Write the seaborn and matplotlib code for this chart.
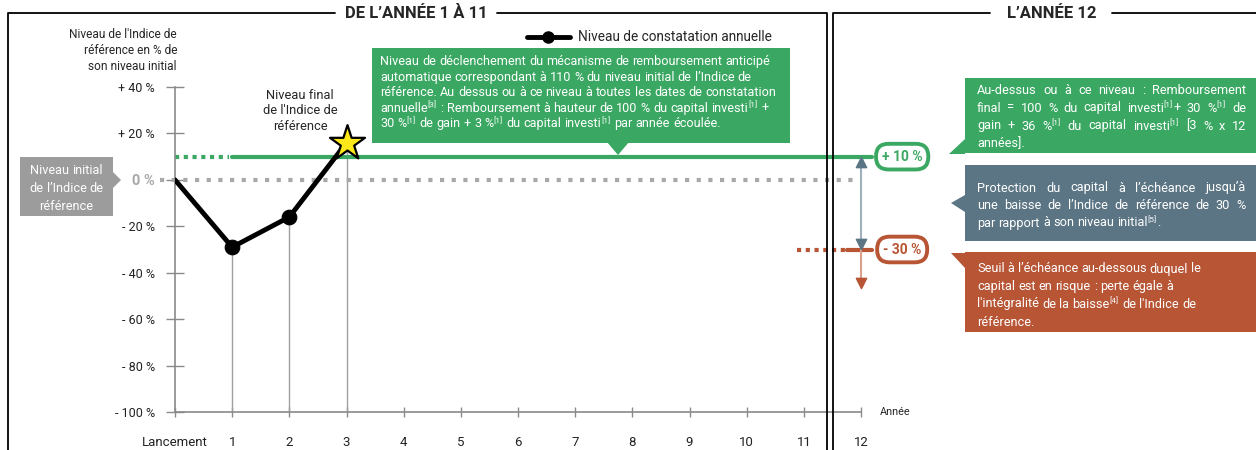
"""
plot.py
-------
Schéma de fonctionnement : niveau de l'Indice de référence, années 1 à 12.
"""

import re
import matplotlib
matplotlib.use("Agg")
import matplotlib.pyplot as plt
from matplotlib.patches import Rectangle, Polygon
import seaborn as sns

# ── Données ────────────────────────────────────────────────────────────────
years = [0, 1, 2, 3]
levels = [0, -29, -16, 16]
x_ticks = list(range(13))
x_labels = ["Lancement"] + [str(i) for i in range(1, 13)]
y_ticks = [40, 20, 0, -20, -40, -60, -80, -100]
y_labels = ["+ 40 %", "+ 20 %", "0 %", "- 20 %", "- 40 %", "- 60 %", "- 80 %", "- 100 %"]
trigger_level = 10
barrier_level = -30

# ── Style ──────────────────────────────────────────────────────────────────
W, H = 1256, 450
GREEN = "#3aa862"
SLATE = "#5b7584"
ORANGE = "#b75535"
GREY_BOX = "#9c9c9c"
GREY_DOT = "#a8a8a8"
AXIS = "#8a8a8a"

sns.set_theme(style="white")
plt.rcParams["font.family"] = ["Roboto", "DejaVu Sans"]

fig = plt.figure(figsize=(W / 100, H / 100), dpi=100)
fig.patch.set_facecolor("white")

# axes du graphique : x 0→12 sur px 175→861, y -100→40 sur px 412→87
ax = fig.add_axes([175 / W, (H - 412) / H, 686 / W, 325 / H])
ax.set_facecolor("none")
ax.set_xlim(0, 12)
ax.set_ylim(-100, 40)
for s in ["top", "right"]:
    ax.spines[s].set_visible(False)
for s in ["left", "bottom"]:
    ax.spines[s].set_color(AXIS)
    ax.spines[s].set_linewidth(1.2)
ax.set_yticks(y_ticks)
ax.set_yticklabels(y_labels)
ax.set_xticks(x_ticks)
ax.set_xticklabels(x_labels)
ax.tick_params(axis="y", direction="inout", length=13, width=1, color=AXIS,
               labelsize=9, pad=8, labelcolor="#222222", left=True)
ax.tick_params(axis="x", direction="inout", length=7, width=1, color=AXIS,
               labelsize=9.5, pad=14, labelcolor="#222222", bottom=True)
for lbl in ax.get_yticklabels():
    if lbl.get_text() == "0 %":
        lbl.set_fontweight("bold")
        lbl.set_color(GREY_DOT)
        lbl.set_fontsize(10.5)
ax.grid(False)

# lignes verticales vers l'axe
ax.vlines(years[1:], -100, levels[1:], color="#a0a0a0", lw=1, zorder=1)

# niveau initial (0 %)
ax.plot([-0.26, 12], [0, 0], color=GREY_DOT, lw=3, dashes=(1.0, 1.8), zorder=1,
        clip_on=False)

# seuil de remboursement anticipé (+10 %)
ax.plot([0, 0.95], [trigger_level] * 2, color=GREEN, lw=3, dashes=(1.0, 1.1),
        clip_on=False, zorder=2)
ax.plot([1.0, 12.2], [trigger_level] * 2, color=GREEN, lw=3, clip_on=False, zorder=2)

# barrière de protection (-30 %)
ax.plot([10.88, 11.75], [barrier_level] * 2, color=ORANGE, lw=3, dashes=(1.0, 1.1),
        clip_on=False, zorder=2)
ax.plot([11.75, 12.2], [barrier_level] * 2, color=ORANGE, lw=3, clip_on=False, zorder=2)

# flèches à l'échéance
ax.annotate("", xy=(12, barrier_level + 1.2), xytext=(12, trigger_level - 1.2),
            arrowprops=dict(arrowstyle="-", color="#9fb0ba", lw=1.5,
                            shrinkA=0, shrinkB=0),
            annotation_clip=False)
ax.annotate("", xy=(12, -45), xytext=(12, barrier_level),
            arrowprops=dict(arrowstyle="-", color="#d9a08c", lw=1.5,
                            shrinkA=0, shrinkB=0),
            annotation_clip=False)
ax.scatter([12], [trigger_level - 2.5], marker="^", s=55, color=SLATE, zorder=4, clip_on=False)
ax.scatter([12], [barrier_level + 2.5], marker="v", s=55, color=SLATE, zorder=4, clip_on=False)
ax.scatter([12], [-44.5], marker="v", s=55, color=ORANGE, zorder=4, clip_on=False)

# badges
for val, txt, col in [(trigger_level, "+ 10 %", GREEN), (barrier_level, "- 30 %", ORANGE)]:
    ax.text(12.72, val, txt, color=col, fontsize=10, fontweight="bold",
            ha="center", va="center", zorder=5,
            bbox=dict(boxstyle="round,pad=0.42,rounding_size=0.9", fc="white",
                      ec=col, lw=2.8))

# niveau de constatation annuelle
sns.lineplot(x=years, y=levels, color="black", lw=3.5, ax=ax, zorder=6,
             legend=False)
sns.scatterplot(x=years[1:3], y=levels[1:3], color="black", s=110, ax=ax,
                zorder=7, edgecolor="black", legend=False)
sns.scatterplot(x=years[3:], y=levels[3:], marker="*", s=700, color="#ffe81a",
                edgecolor="black", linewidth=1.6, ax=ax, zorder=8, legend=False,
                clip_on=False)

# ── Décor en pixels ──────────────────────────────────────────────────────────
deco = fig.add_axes([0, 0, 1, 1])
deco.set_xlim(0, W)
deco.set_ylim(H, 0)
deco.axis("off")
deco.set_facecolor("none")
renderer = fig.canvas.get_renderer()

# cadres
deco.plot([8, 8, 335], [H + 5, 13, 13], color="black", lw=1.3)
deco.plot([497, 827, 827], [13, 13, H + 5], color="black", lw=1.3)
deco.plot([833, 833, 990], [H + 5, 13, 13], color="black", lw=1.3)
deco.plot([1112, W + 5], [13, 13], color="black", lw=1.3)
deco.text(416, 14, "DE L’ANNÉE 1 À 11", fontsize=12, fontweight="bold",
          ha="center", va="center")
deco.text(1052, 14, "L’ANNÉE 12", fontsize=12, fontweight="bold",
          ha="center", va="center")

# titre de l'axe y
deco.text(177, 50, "Niveau de l'Indice de\nréférence en % de\nson niveau initial",
          fontsize=8.6, ha="right", va="center", linespacing=1.3)
deco.text(880, 412, "Année", fontsize=7.8, ha="left", va="center")

# légende
deco.plot([527, 570], [37, 37], color="black", lw=3.5)
deco.plot([548], [37], "o", color="black", ms=8)
deco.text(578, 37, "Niveau de constatation annuelle", fontsize=9.8, va="center")

# annotation étoile
deco.text(300, 111, "Niveau final\nde l'Indice de\nréférence", fontsize=9.3,
          ha="center", va="center", linespacing=1.25)


def width_of(s, fs):
    t = deco.text(0, 0, s, fontsize=fs)
    w = t.get_window_extent(renderer).width
    t.remove()
    return w


def text_lines(x, centers, lines, fs=9.2, color="white", width=None,
               justify=0, ha="left"):
    """Une ligne par position, mot par mot ; {n} = appel de note en exposant."""
    space = width_of("x x", fs) - width_of("xx", fs)
    sup_fs = fs * 0.66
    for i, (yc, line) in enumerate(zip(centers, lines)):
        yb = yc + 4.5
        words = []
        for word in line.split(" "):
            segs = []
            for part in re.split(r"(\{[^}]*\})", word):
                if not part:
                    continue
                sup = part.startswith("{")
                s = f"[{part[1:-1]}]" if sup else part
                t = deco.text(0, yb - (4.5 if sup else 0), s, va="baseline",
                              color=color, fontsize=sup_fs if sup else fs)
                segs.append((t, t.get_window_extent(renderer).width + (0.6 if sup else 0)))
            words.append(segs)
        wws = [sum(w for _, w in segs) for segs in words]
        if i < justify and width and len(words) > 1:
            gap = (width - sum(wws)) / (len(words) - 1)
        else:
            gap = space
        total = sum(wws) + gap * (len(words) - 1)
        xx = x - total / 2 if ha == "center" else x
        for segs, ww in zip(words, wws):
            sx = xx
            for t, w in segs:
                t.set_x(sx)
                sx += w
            xx += ww + gap


def box(x, y, w, h, color, tri):
    deco.add_patch(Rectangle((x, y), w, h, color=color, lw=0))
    deco.add_patch(Polygon(tri, closed=True, color=color, lw=0))


box(372, 48, 418, 95, GREEN, [(607, 142), (629, 142), (618, 155)])
text_lines(380, [60.5, 76.1, 91.7, 107.3, 122.9], [
    "Niveau de déclenchement du mécanisme de remboursement anticipé",
    "automatique correspondant à 110 % du niveau initial de l’Indice de",
    "référence. Au dessus ou à ce niveau à toutes les dates de constatation",
    "annuelle{3} : Remboursement à hauteur de 100 % du capital investi{1} +",
    "30 %{1} de gain + 3 %{1} du capital investi{1} par année écoulée.",
], fs=9.1)

box(965, 78, 300, 75, GREEN, [(965, 139), (965, 154), (949, 154)])
text_lines(977, [89, 107, 125, 143], [
    "Au-dessus ou à ce niveau : Remboursement",
    "final = 100 % du capital investi{1}+ 30 %{1} de",
    "gain + 36 %{1} du capital investi{1} [3 % x 12",
    "années].",
], width=269, justify=3)

box(965, 165, 300, 76, SLATE, [(965, 195), (965, 212), (951, 203)])
text_lines(977, [187, 204.5, 222], [
    "Protection du capital à l’échéance jusqu’à",
    "une baisse de l’Indice de référence de 30 %",
    "par rapport à son niveau initial{5}.",
], width=269, justify=2)

box(965, 252, 300, 80, ORANGE, [(951, 253), (965, 253), (965, 268)])
text_lines(977, [268, 285.5, 303, 321], [
    "Seuil à l’échéance au-dessous duquel le",
    "capital est en risque : perte égale à",
    "l'intégralité de la baisse{4} de l'Indice de",
    "référence.",
])

box(20, 157, 93, 59, GREY_BOX, [(113, 172), (113, 188), (121, 180)])
text_lines(66.5, [170, 188, 206], [
    "Niveau initial", "de l’Indice de", "référence",
], ha="center")

fig.savefig("out.png", dpi=100, facecolor="white")
